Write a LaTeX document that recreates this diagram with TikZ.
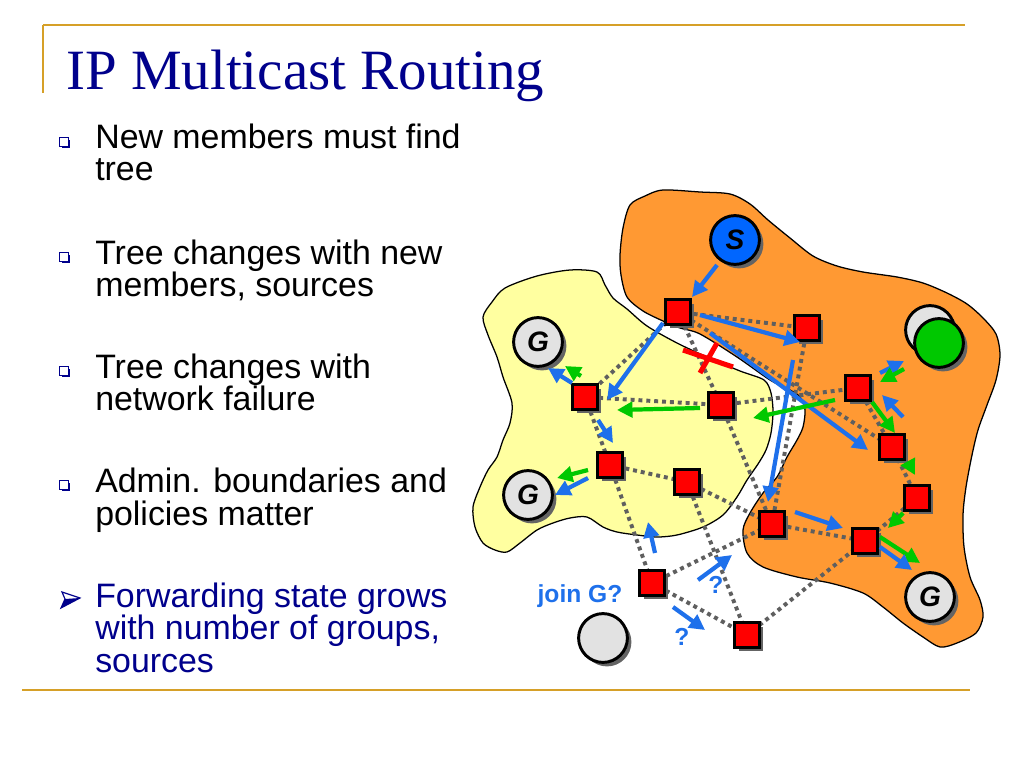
\documentclass[tikz,border=0pt]{standalone}
\usepackage{fontspec}
\setmainfont{Liberation Serif}
\setsansfont{Liberation Sans}
\usetikzlibrary{arrows.meta,shadows,calc}
\pgfdeclarelayer{regions}
\pgfdeclarelayer{links}
\pgfsetlayers{regions,links,main}
\definecolor{navy}{RGB}{0,0,140}
\definecolor{gold}{RGB}{214,160,40}
\definecolor{orng}{RGB}{255,153,51}
\definecolor{ylw}{RGB}{255,255,160}
\definecolor{arblue}{RGB}{30,112,235}
\definecolor{sblue}{RGB}{0,102,255}
\definecolor{argreen}{RGB}{0,200,0}
\definecolor{hgray}{RGB}{226,226,226}
\definecolor{dotgray}{RGB}{95,95,95}
\definecolor{shadowgray}{RGB}{100,100,100}
\begin{document}
\begin{tikzpicture}[x=0.025cm,y=-0.025cm,
  router/.style={rectangle, fill=red, draw=black, line width=2.1pt, minimum size=0.62cm, inner sep=0pt,
     drop shadow={shadow xshift=0.1cm, shadow yshift=-0.1cm, fill=shadowgray, opacity=1}},
  host/.style={circle, draw=black, line width=2.1pt, minimum size=1.22cm, inner sep=0pt,
     font=\sffamily\bfseries\itshape\fontsize{20}{24}\selectfont,
     drop shadow={shadow xshift=0.1cm, shadow yshift=-0.1cm, fill=shadowgray, opacity=1}},
  link/.style={draw=dotgray, line width=2.8pt, dash pattern=on 2.8pt off 2.8pt},
  barrow/.style={draw=arblue, line width=3pt, -{Triangle[length=11pt,width=11pt]}},
  garrow/.style={draw=argreen, line width=3pt, -{Triangle[length=11pt,width=11pt]}},
  xline/.style={draw=red, line width=3.6pt},
  qlabel/.style={font=\sffamily\bfseries\fontsize{17.5}{20}\selectfont, text=arblue, inner sep=0pt},
  btext/.style={anchor=base west, inner sep=0pt, font=\sffamily\fontsize{24.1}{28}\selectfont},
  bsq/.style={rectangle, draw=navy, line width=0.9pt, fill=white, minimum size=0.22cm, inner sep=0pt,
     drop shadow={shadow xshift=0.05cm, shadow yshift=-0.05cm, fill=navy, opacity=1}},
  region/.style={draw=black, line width=0.9pt}
]
\useasboundingbox (0,0) rectangle (1024,768);

% frame lines
\draw[gold, line width=1.6pt] (43,25) -- (965,25);
\draw[gold, line width=1.6pt] (43,25) -- (43,93);
\draw[gold, line width=1.6pt] (22,690) -- (970,690);

% title
\node[anchor=base west, inner sep=0pt, font=\fontsize{40.5}{48}\selectfont, text=navy] (title) at (66,90) {IP Multicast Routing};

% bullets
\node[bsq] (b1) at (64,142) {};
\node[btext] (t1a) at (95,149) {New members must find};
\node[btext] (t1b) at (95,181) {tree};
\node[bsq] (b2) at (64,257) {};
\node[btext] (t2a) at (95,264) {Tree changes with new};
\node[btext] (t2b) at (95,296) {members, sources};
\node[bsq] (b3) at (64,371) {};
\node[btext] (t3a) at (95,378) {Tree changes with};
\node[btext] (t3b) at (95,410) {network failure};
\node[bsq] (b4) at (64,485) {};
\node[btext] (t4a) at (95,492) {Admin. boundaries and};
\node[btext] (t4b) at (95,525) {policies matter};
\fill[navy] (65,599) -- (80,598) -- (61,608) -- cycle;
\draw[navy, line width=0.8pt, line join=miter] (62,592) -- (80,598) -- (61,608) -- (65,599) -- cycle;
\node[btext, text=navy] (t5a) at (95,607) {Forwarding state grows};
\node[btext, text=navy] (t5b) at (95,639) {with number of groups,};
\node[btext, text=navy] (t5c) at (95,672) {sources};

% regions
\begin{pgfonlayer}{regions}
\fill[white] (0,0) rectangle (1024,768);
\draw[region, fill=orng] plot[smooth cycle, tension=0.5] coordinates {
 (663,190) (700,192) (730,194) (750,204) (768,220) (790,238) (813,256) (837,266) (863,272) (897,277)
 (923,283) (947,293) (967,304) (983,318) (996,334) (1000,355) (996,380) (987,405) (978,430) (972,455)
 (966,487) (963,515) (964,547) (970,577) (980,600) (983,617) (976,633) (957,643) (940,647) (923,637)
 (903,623) (883,607) (863,593) (830,583) (797,577) (763,567) (747,553) (743,530) (750,513) (763,493)
 (777,477) (787,457) (797,440) (803,427) (805,410) (800,397) (790,390) (770,380) (737,357) (700,334)
 (680,328) (663,321) (643,311) (627,297) (621,275) (620,255) (623,228) (630,205) (645,196)};
\draw[region, fill=ylw] plot[smooth cycle, tension=0.5] coordinates {
 (483,317) (492,302) (505,288) (537,276) (570,270) (597,272) (605,285) (613,298) (627,309) (647,326)
 (677,343) (707,357) (740,371) (764,380) (771,393) (773,412) (771,433) (766,450) (758,464) (747,480)
 (737,497) (723,515) (703,527) (677,535) (657,537) (637,535) (617,532) (603,527) (587,517) (570,518)
 (553,523) (537,530) (520,543) (507,552) (495,550) (483,543) (475,527) (473,507) (480,487) (488,470)
 (497,457) (503,440) (510,423) (512,403) (503,377) (497,357) (488,335)};
\end{pgfonlayer}

% hosts
\node[host, fill=sblue] (S) at (735,240) {S};
\node[host, fill=hgray] (G1) at (538,342) {G};
\node[host, fill=hgray] (G2) at (528,495) {G};
\node[host, fill=hgray] (G3) at (930,597) {G};
\node[host, fill=hgray] (N1) at (930,330) {};
\node[host, fill=argreen] (N2) at (939,343) {};
\node[host, fill=hgray] (J) at (603,638) {};

% routers
\node[router] (R1) at (678,312) {};
\node[router] (R2) at (807,328) {};
\node[router] (R3) at (858,388) {};
\node[router] (R4) at (721,405) {};
\node[router] (R5) at (585,397) {};
\node[router] (R6) at (892,447) {};
\node[router] (R7) at (610,465) {};
\node[router] (R8) at (687,482) {};
\node[router] (R9) at (917,498) {};
\node[router] (R10) at (772,524) {};
\node[router] (R11) at (865,541) {};
\node[router] (R12) at (652,583) {};
\node[router] (R13) at (747,635) {};

% links
\begin{pgfonlayer}{links}
\draw[link] (R1.center) -- (R2.center);
\draw[link] (R1.center) -- (R5.center);
\draw[link] (R1.center) -- (R4.center);
\draw[link] (R1.center) -- (R6.center);
\draw[link] (R2.center) -- (R10.center);
\draw[link] (R3.center) -- (R4.center);
\draw[link] (R3.center) -- (R6.center);
\draw[link] (R4.center) -- (R5.center);
\draw[link] (R4.center) -- (R10.center);
\draw[link] (R5.center) -- (R7.center);
\draw[link] (R7.center) -- (R8.center);
\draw[link] (R7.center) -- (R12.center);
\draw[link] (R8.center) -- (R10.center);
\draw[link] (R8.center) -- (R13.center);
\draw[link] (R12.center) -- (R10.center);
\draw[link] (R12.center) -- (R13.center);
\draw[link] (R13.center) -- (R11.center);
\draw[link] (R10.center) -- (R11.center);
\draw[link] (R11.center) -- (R9.center);
\draw[link] (R9.center) -- (R6.center);
\end{pgfonlayer}

% failure mark
\coordinate (X) at (708,358);
\draw[xline] ([shift={(-25,-8)}]X) -- ([shift={(25,9)}]X);
\draw[xline] ([shift={(-8,15)}]X) -- ([shift={(9,-15)}]X);

% arrows
\draw[barrow] ([shift={(-18,25)}]S.center) -- ([shift={(14,-15)}]R1.center);
\draw[barrow] ([shift={(-15,11)}]R1.center) -- ([shift={(22,3)}]R5.center);
\draw[barrow] ([shift={(22,3)}]R1.center) -- ([shift={(-7,14)}]R2.center);
\draw[barrow] ([shift={(32,21)}]R1.center) -- ([shift={(-24,3)}]R6.center);
\draw[barrow] ([shift={(-14,32)}]R2.center) -- ([shift={(-4,-22)}]R10.center);
\draw[barrow] ([shift={(-13,-14)}]R5.center) -- ([shift={(10,26)}]G1.center);
\draw[garrow] ([shift={(-4,-21)}]R5.center) -- ([shift={(27,24)}]G1.center);
\draw[barrow] ([shift={(13,23)}]R5.center) -- ([shift={(3,-22)}]R7.center);
\draw[barrow] ([shift={(-22,13)}]R7.center) -- ([shift={(27,0)}]G2.center);
\draw[garrow] ([shift={(-22,5)}]R7.center) -- ([shift={(29,-17)}]G2.center);
\draw[garrow] ([shift={(-21,3)}]R4.center) -- ([shift={(32,13)}]R5.center);
\draw[garrow] ([shift={(-23,12)}]R3.center) -- ([shift={(32,13)}]R4.center);
\draw[barrow] ([shift={(22,-15)}]R3.center) -- ([shift={(-35,18)}]N2.center);
\draw[garrow] ([shift={(-35,26)}]N2.center) -- ([shift={(22,-6)}]R3.center);
\draw[barrow] ([shift={(11,-30)}]R6.center) -- ([shift={(24,7)}]R3.center);
\draw[garrow] ([shift={(14,14)}]R3.center) -- ([shift={(3,-14)}]R6.center);
\draw[garrow] ([shift={(16,15)}]R6.center) -- ([shift={(-2,-23)}]R9.center);
\draw[garrow] ([shift={(-14,15)}]R9.center) -- ([shift={(23,-13)}]R11.center);
\draw[garrow] ([shift={(15,-4)}]R11.center) -- ([shift={(-10,-34)}]G3.center);
\draw[barrow] ([shift={(15,6)}]R11.center) -- ([shift={(-18,-27)}]G3.center);
\draw[barrow] ([shift={(23,-12)}]R10.center) -- ([shift={(-22,-13)}]R11.center);
\draw[barrow] ([shift={(3,-30)}]R12.center) -- ([shift={(-4,-61)}]R12.center);
\draw[barrow] ([shift={(46,-3)}]R12.center) -- ([shift={(80,-28)}]R12.center);
\draw[barrow] ([shift={(21,24)}]R12.center) -- ([shift={(53,47)}]R12.center);

% labels
\node[qlabel, anchor=base] (jg) at (580,602) {join G?};
\node[qlabel, anchor=base] (q1) at (716,593) {?};
\node[qlabel, anchor=base] (q2) at (682,645) {?};
\end{tikzpicture}
\end{document}
